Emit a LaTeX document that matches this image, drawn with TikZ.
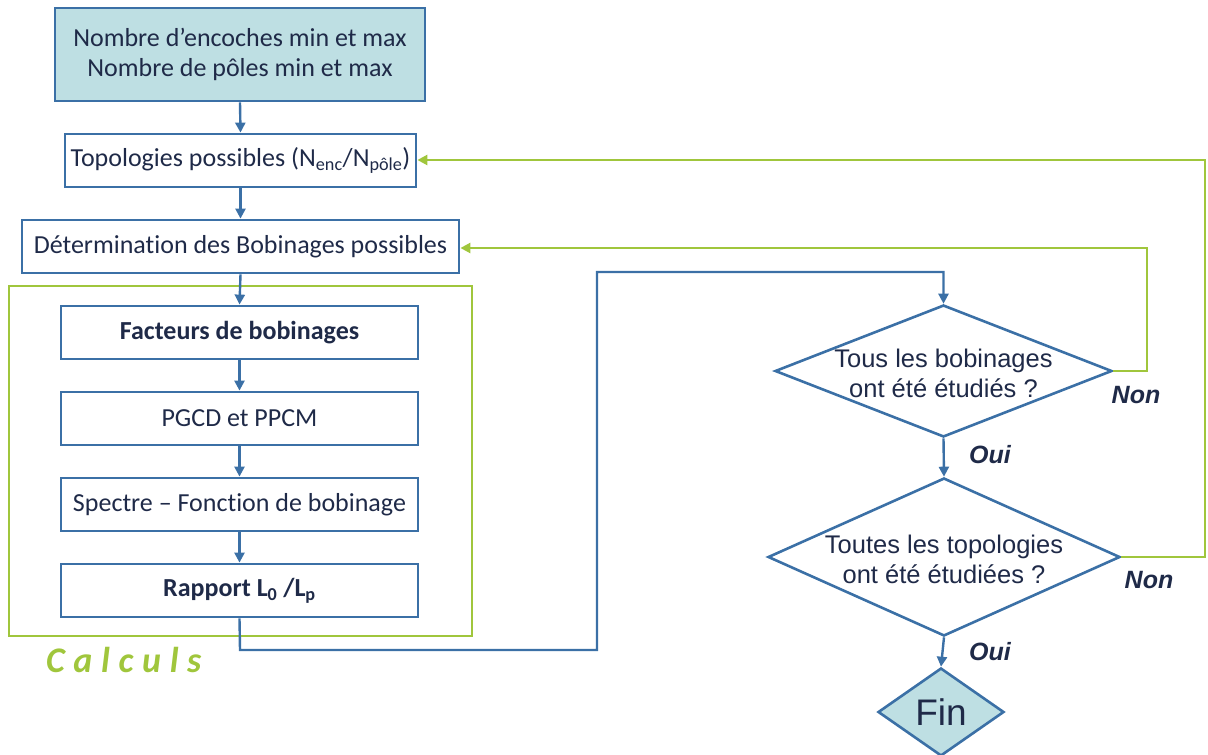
\documentclass[tikz,border=0pt]{standalone}
\usepackage{fontspec}
\setmainfont[Ligatures=NoCommon]{Carlito}
\newfontfamily\arialf{Liberation Sans}
\newfontfamily\calcf[LetterSpace=24]{Carlito}
\usetikzlibrary{shapes.geometric,arrows.meta}
\definecolor{bl}{HTML}{3B70A6}
\definecolor{gr}{HTML}{A0C63C}
\definecolor{fillb}{HTML}{BEDFE3}
\definecolor{txt}{HTML}{1F2A48}
\begin{document}
\begin{tikzpicture}[x=1pt,y=-1pt,
  box/.style={draw=bl,line width=2.8pt,text=txt,font=\fontsize{26}{30}\selectfont,align=center,inner sep=0pt},
  dia/.style={draw=bl,line width=2.6pt,diamond,inner sep=0pt,text=txt},
  arr/.style={draw=bl,line width=2.4pt,-{Triangle[width=10pt,length=10pt]}},
  garr/.style={draw=gr,line width=2.6pt,-{Triangle[width=10pt,length=10pt]}},
  dtxt/.style={font=\arialf\fontsize{25.5}{30}\selectfont,align=center,text=txt},
  lab/.style={font=\arialf\bfseries\itshape\fontsize{25}{28}\selectfont,text=txt}]
\useasboundingbox (0,0) rectangle (1208,755);
% green frame
\draw[gr,line width=2.6pt] (9,286) rectangle (472,636);
\node[box,fill=fillb,minimum width=370pt,minimum height=93pt] (b1) at (240,54.5) {Nombre d’encoches min et max\\Nombre de pôles min et max};
\node[box,minimum width=351pt,minimum height=53pt] (b2) at (240.5,160.5) {Topologies possibles (N\textsubscript{enc}/N\textsubscript{pôle})};
\node[box,minimum width=437pt,minimum height=53pt] (b3) at (240.5,246.5) {Détermination des Bobinages possibles};
\node[box,minimum width=357pt,minimum height=53pt,font=\bfseries\fontsize{26}{30}\selectfont] (b4) at (239.5,332.5) {Facteurs de bobinages};
\node[box,minimum width=357pt,minimum height=53pt] (b5) at (239.5,418.5) {PGCD et PPCM};
\node[box,minimum width=357pt,minimum height=53pt] (b6) at (239.5,504.5) {Spectre – Fonction de bobinage};
\node[box,minimum width=357pt,minimum height=53pt,font=\bfseries\fontsize{26}{30}\selectfont] (b7) at (239.5,590.5) {Rapport L\textsubscript{0} /L\textsubscript{p}};
\node[font=\calcf\bfseries\itshape\fontsize{36}{38}\selectfont,text=gr,anchor=west,inner sep=0pt] (calc) at (46,660) {Calculs};
% diamonds
\node[dia,minimum width=337pt,minimum height=132pt] (d1) at (943.5,371) {};
\node[dtxt] (t1) at (943.5,373) {Tous les bobinages\\ont été étudiés ?};
\node[dia,minimum width=352pt,minimum height=158pt] (d2) at (944,557) {};
\node[dtxt] (t2) at (944,559) {Toutes les topologies\\ont été étudiées ?};
\node[dia,fill=fillb,minimum width=126pt,minimum height=88pt,font=\arialf\fontsize{37}{40}\selectfont] (fin) at (941,712) {Fin};
% labels
\node[lab] (non1) at (1136,395) {Non};
\node[lab] (oui1) at (990,455) {Oui};
\node[lab] (non2) at (1149,580) {Non};
\node[lab] (oui2) at (990,652) {Oui};
% connectors
\draw[arr] (b1.south) -- (b2.north);
\draw[arr] (b2.south) -- (b3.north);
\draw[arr] (b3.south) -- (b4.north);
\draw[arr] (b4.south) -- (b5.north);
\draw[arr] (b5.south) -- (b6.north);
\draw[arr] (b6.south) -- (b7.north);
\coordinate (c1) at (240,650);
\coordinate (c2) at (597,650);
\coordinate (c3) at (597,272);
\coordinate (c4) at (943.5,272);
\draw[arr] (b7.south) -- (c1) -- (c2) -- (c3) -- (c4) -- (d1.north);
\draw[arr] (d1.south) -- (d2.north);
\draw[arr] (d2.south) -- (fin.north);
\coordinate (g1) at (1147,371);
\coordinate (g2) at (1147,248);
\draw[garr] (d1.east) -- (g1) -- (g2) -- (b3.east |- g2);
\coordinate (g3) at (1205,557);
\coordinate (g4) at (1205,160);
\draw[garr] (d2.east) -- (g3) -- (g4) -- (b2.east |- g4);
\end{tikzpicture}
\end{document}
